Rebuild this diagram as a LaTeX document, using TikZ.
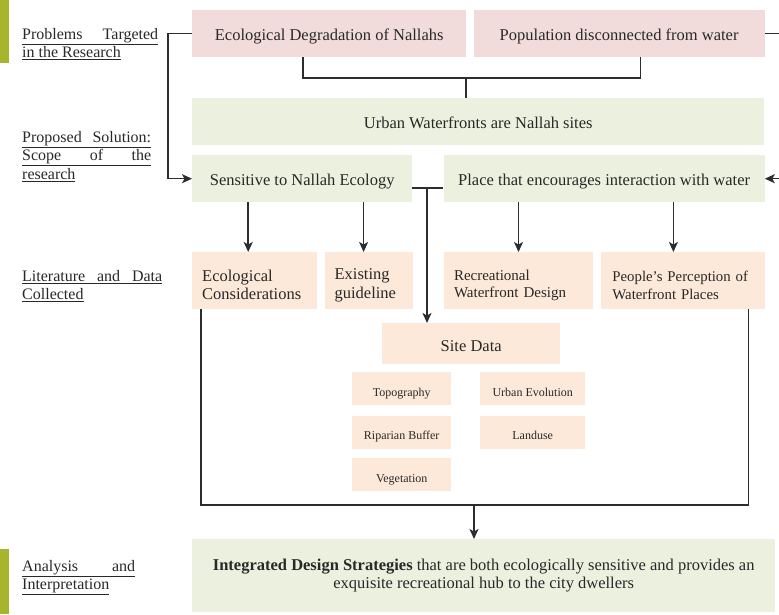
\documentclass[tikz,border=0pt]{standalone}
\usepackage{fontspec}
\setmainfont{Liberation Serif}
\usepackage{xcolor}
\usetikzlibrary{positioning, arrows.meta}

\definecolor{probpink}{RGB}{242,220,219}
\definecolor{solgreen}{RGB}{235,241,222}
\definecolor{litpeach}{RGB}{253,233,217}
\definecolor{olivebar}{RGB}{166,181,43}
\definecolor{inkgray}{RGB}{40,40,40}
\definecolor{linegray}{RGB}{45,45,45}

\newcommand{\litlift}{\rule{0pt}{20pt}}

\begin{document}
\begin{tikzpicture}[
    x=1pt, y=1pt,
    node distance=7pt and 7pt,
    box/.style={rectangle, inner sep=0pt, text=inkgray, font=\fontsize{16.5}{18.5}\selectfont, align=center},
    lift/.style={text height=18pt, text depth=4pt},
    prob/.style={box, lift, fill=probpink, minimum height=47pt},
    sol/.style={box, fill=solgreen, minimum height=47pt},
    lit/.style={box, fill=litpeach, minimum height=57pt, inner xsep=10pt, align=left},
    data/.style={box, fill=litpeach, minimum width=99pt, minimum height=33pt, text height=18pt, text depth=3pt, font=\fontsize{12}{14}\selectfont},
    tag/.style={anchor=north west, inner sep=0pt, text=inkgray, font=\fontsize{16}{18.5}\selectfont, align=left},
    link/.style={draw=linegray, line width=1.5pt},
    arrow/.style={link, -{Stealth[length=10pt,width=9pt,inset=2.5pt]}}
]
\useasboundingbox (0,0) rectangle (779,-614);

% Side bars
\fill[olivebar] (0,0) rectangle (9,-63);
\fill[olivebar] (0,-549) rectangle (9,-614);

% Stage labels
\node (tagprob) [tag] at (22,-28) {\underline{\makebox[136pt][s]{Problems Targeted}}\\\underline{in the Research}};
\node (tagsol) [tag] at (22,-131) {\underline{\makebox[129pt][s]{Proposed Solution:}}\\\underline{\makebox[129pt][s]{Scope of the}}\\\underline{research}};
\node (taglit) [tag] at (22,-270) {\underline{\makebox[140pt][s]{Literature and Data}}\\\underline{Collected}};
\node (tagana) [tag] at (22,-560) {\underline{\makebox[113pt][s]{Analysis and}}\\\underline{Interpretation}};

% Nodes
\node (eco) [prob, minimum width=274pt, anchor=north west] at (192,-10) {Ecological Degradation of Nallahs};
\node (pop) [prob, minimum width=291pt, right=7pt of eco] {Population disconnected from water};
\node (urban) [sol, lift, minimum width=572pt, anchor=north west] at (192,-98) {Urban Waterfronts are Nallah sites};
\node (sens) [sol, lift, minimum width=220pt, anchor=north west] at (192,-155) {Sensitive to Nallah Ecology};
\node (place) [sol, lift, minimum width=321pt, right=31pt of sens] {Place that encourages interaction with water};

\node (ecocons) [lit, text width=105pt, anchor=north west] at (192,-252) {\litlift Ecological\\Considerations};
\node (guide) [lit, text width=68pt, right=7pt of ecocons] {\litlift Existing\\guideline};
\node (recre) [lit, text width=129pt, font=\fontsize{15}{17.5}\selectfont, right=31pt of guide] {\litlift Recreational\\Waterfront Design};
\node (people) [lit, text width=142pt, inner xsep=11pt, font=\fontsize{14.8}{17.5}\selectfont, right=8pt of recre] {\litlift\makebox[142pt][s]{People’s Perception of}\\Waterfront Places};

\node (site) [box, fill=litpeach, minimum width=178pt, minimum height=41pt, text height=20pt, text depth=4pt, anchor=north west] at (382,-323) {Site Data};
\node (topo) [data, anchor=north west] at (352,-372) {Topography};
\node (ripar) [data, below=10pt of topo] {Riparian Buffer};
\node (veget) [data, below=9pt of ripar] {Vegetation};
\node (evol) [data, minimum width=105pt, anchor=north west] at (480,-372) {Urban Evolution};
\node (landuse) [data, minimum width=105pt, below=10pt of evol] {Landuse};

\node (integ) [sol, minimum width=583pt, minimum height=73pt, anchor=north west] at (192,-539) {\textbf{Integrated Design Strategies} that are both ecologically sensitive and provides an\\exquisite recreational hub to the city dwellers};

% Connections
\coordinate (probjoin) at (466,-78);
\draw [link] ([xshift=-26pt]eco.south) |- (probjoin) -| ([xshift=21.5pt]pop.south);
\draw [link] (probjoin) -- (probjoin |- urban.north);
\draw [arrow] (eco.west) -- ++(-24,0) |- (sens.west);
\draw [arrow] (pop.east) -- ++(21,0) |- (place.east);

\coordinate (fork) at (427,-188);
\draw [link] (sens.east |- fork) -- (place.west |- fork);
\draw [arrow] (fork) -- (fork |- site.north);

\draw [arrow] ([xshift=-6.5pt]ecocons.north |- sens.south) -- ([xshift=-6.5pt]ecocons.north);
\draw [arrow] ([xshift=-5pt]guide.north |- sens.south) -- ([xshift=-5pt]guide.north);
\draw [arrow] (recre.north |- place.south) -- (recre.north);
\draw [arrow] ([xshift=-10pt]people.north |- place.south) -- ([xshift=-10pt]people.north);

\coordinate (litjoin) at (474,-505);
\draw [link] ([xshift=9pt]ecocons.south west) |- (litjoin) -| ([xshift=-17pt]people.south east);
\draw [arrow] (litjoin) -- (litjoin |- integ.north);

\end{tikzpicture}
\end{document}
